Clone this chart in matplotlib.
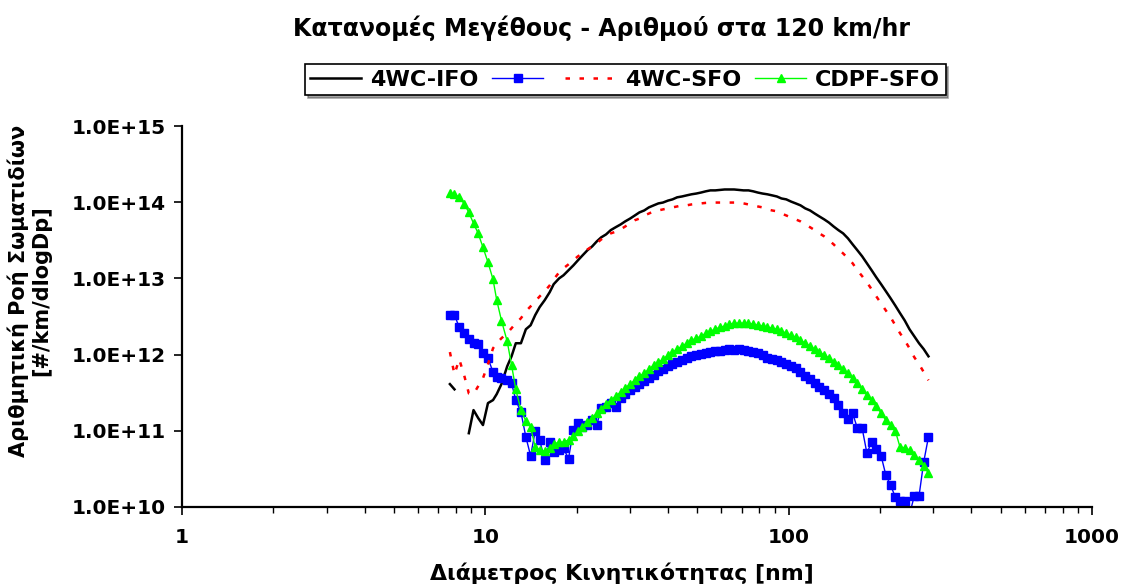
import matplotlib

matplotlib.use("Agg")
import matplotlib.pyplot as plt
import numpy as np
from matplotlib.ticker import FixedLocator, FuncFormatter, LogLocator, NullFormatter

plt.rcParams["font.family"] = ["DejaVu Sans"]
plt.rcParams["font.weight"] = "bold"

# mobility diameter channels [nm]
diameter = [
    7.64, 7.91, 8.20, 8.51, 8.82, 9.14, 9.47, 9.82, 10.2, 10.6, 10.9, 11.3, 11.8, 12.2, 12.6, 13.1,
    13.6, 14.1, 14.6, 15.1, 15.7, 16.3, 16.8, 17.5, 18.1, 18.8, 19.5, 20.2, 20.9, 21.7, 22.5, 23.3,
    24.1, 25.0, 25.9, 26.9, 27.9, 28.9, 30.0, 31.1, 32.2, 33.4, 34.6, 35.9, 37.2, 38.5, 40.0, 41.4,
    42.9, 44.5, 46.1, 47.8, 49.6, 51.4, 53.3, 55.2, 57.3, 59.4, 61.5, 63.8, 66.1, 68.5, 71.0, 73.7,
    76.4, 79.1, 82.0, 85.1, 88.2, 91.4, 94.7, 98.2, 101.8, 105.5, 109.4, 113.4, 117.6, 121.9, 126.3,
    131.0, 135.8, 140.7, 145.9, 151.2, 156.8, 162.5, 168.5, 174.7, 181.1, 187.7, 194.6, 201.7, 209.1,
    216.7, 224.7, 232.9, 241.4, 250.3, 259.5, 269.0, 278.8, 289.0,
]

wc_ifo = [
    4.1e11, 3.5e11, np.nan, np.nan, 9.3e10, 1.87e11, 1.47e11, 1.19e11, 2.31e11, 2.53e11, 3.03e11, 4.1e11,
    7.0e11, 9.5e11, 1.41e12, 1.41e12, 2.15e12, 2.43e12, 3.3e12, 4.2e12, 5.2e12, 6.6e12, 8.4e12, 1.0e13,
    1.1e13, 1.28e13, 1.48e13, 1.73e13, 2.0e13, 2.34e13, 2.63e13, 3.06e13, 3.46e13, 3.78e13, 4.3e13, 4.7e13,
    5.1e13, 5.6e13, 6.1e13, 6.7e13, 7.35e13, 7.8e13, 8.55e13, 9.1e13, 9.65e13, 9.9e13, 1.05e14, 1.09e14,
    1.16e14, 1.19e14, 1.23e14, 1.27e14, 1.3e14, 1.34e14, 1.39e14, 1.43e14, 1.43e14, 1.45e14, 1.47e14,
    1.47e14, 1.47e14, 1.45e14, 1.43e14, 1.43e14, 1.39e14, 1.34e14, 1.3e14, 1.27e14, 1.23e14, 1.19e14,
    1.12e14, 1.09e14, 1.02e14, 9.65e13, 9.1e13, 8.3e13, 7.8e13, 7.1e13, 6.5e13, 5.95e13, 5.4e13, 4.8e13,
    4.3e13, 3.9e13, 3.36e13, 2.8e13, 2.34e13, 1.95e13, 1.58e13, 1.28e13, 1.03e13, 8.4e12, 6.8e12, 5.5e12,
    4.4e12, 3.5e12, 2.8e12, 2.15e12, 1.74e12, 1.41e12, 1.18e12, 9.5e11,
]

blue_series = [
    3.3e12, 3.3e12, 2.29e12, 1.91e12, 1.59e12, 1.41e12, 1.37e12, 1.04e12, 9.0e11, 5.9e11, 5.1e11, 4.9e11,
    4.6e11, 4.2e11, 2.53e11, 1.76e11, 8.3e10, 4.7e10, 9.9e10, 7.6e10, 4.1e10, 7.1e10, 5.3e10, 5.6e10,
    5.9e10, 4.3e10, 1.02e11, 1.26e11, 1.12e11, 1.19e11, 1.38e11, 1.19e11, 1.98e11, 2.04e11, 2.31e11, 2.04e11,
    2.68e11, 3.03e11, 3.42e11, 3.74e11, 4.1e11, 4.5e11, 4.9e11, 5.4e11, 6.1e11, 6.4e11, 7.0e11, 7.5e11,
    7.9e11, 8.5e11, 9.0e11, 9.5e11, 9.8e11, 1.01e12, 1.04e12, 1.08e12, 1.11e12, 1.11e12, 1.14e12, 1.18e12,
    1.14e12, 1.18e12, 1.14e12, 1.11e12, 1.08e12, 1.04e12, 9.8e11, 9.0e11, 8.7e11, 8.5e11, 7.9e11, 7.5e11,
    7.0e11, 6.6e11, 5.9e11, 5.2e11, 4.8e11, 4.2e11, 3.74e11, 3.42e11, 3.03e11, 2.68e11, 2.17e11, 1.7e11,
    1.42e11, 1.7e11, 1.08e11, 1.08e11, 5.1e10, 7.1e10, 5.8e10, 4.7e10, 2.63e10, 1.94e10, 1.35e10, 1.2e10,
    1.2e10, 8.0e9, 1.39e10, 1.39e10, 3.9e10, 8.3e10,
]

wc_sfo = [
    1.08e12, 5.5e11, 8.7e11, 5.4e11, 3.1e11, 3.03e11, 3.85e11, 4.9e11, 7.5e11, 1.21e12, 1.41e12, 1.64e12,
    1.91e12, 2.22e12, 2.58e12, 3.0e12, 3.7e12, 4.3e12, 5.0e12, 5.8e12, 6.8e12, 8.1e12, 9.7e12, 1.2e13,
    1.36e13, 1.53e13, 1.73e13, 1.95e13, 2.13e13, 2.4e13, 2.63e13, 2.9e13, 3.25e13, 3.56e13, 3.9e13, 4.1e13,
    4.4e13, 4.8e13, 5.3e13, 5.8e13, 6.1e13, 6.7e13, 7.1e13, 7.6e13, 7.8e13, 8.05e13, 8.3e13, 8.55e13,
    8.8e13, 9.1e13, 9.1e13, 9.35e13, 9.5e13, 9.65e13, 9.8e13, 9.9e13, 9.9e13, 9.9e13, 9.9e13, 9.9e13,
    9.9e13, 9.9e13, 9.65e13, 9.35e13, 9.1e13, 8.8e13, 8.55e13, 8.05e13, 7.8e13, 7.6e13, 7.1e13, 6.7e13,
    6.3e13, 5.95e13, 5.6e13, 5.1e13, 4.7e13, 4.3e13, 3.9e13, 3.56e13, 3.16e13, 2.8e13, 2.4e13, 2.13e13,
    1.83e13, 1.58e13, 1.28e13, 1.07e13, 8.9e12, 7.2e12, 5.8e12, 4.7e12, 3.8e12, 3.1e12, 2.43e12, 1.91e12,
    1.54e12, 1.21e12, 9.25e11, 7.5e11, 5.9e11, 4.6e11,
]

cdpf_sfo = [
    1.34e14, 1.27e14, 1.16e14, 9.6e13, 7.35e13, 5.28e13, 3.9e13, 2.56e13, 1.63e13, 9.7e12, 5.2e12, 2.8e12,
    1.5e12, 7.3e11, 3.5e11, 1.87e11, 1.34e11, 1.12e11, 6.1e10, 5.6e10, 5.4e10, 5.9e10, 6.7e10, 7.1e10,
    7.1e10, 7.6e10, 8.5e10, 9.9e10, 1.12e11, 1.3e11, 1.47e11, 1.7e11, 1.93e11, 2.24e11, 2.53e11, 2.85e11,
    3.2e11, 3.6e11, 4.1e11, 4.6e11, 5.2e11, 5.7e11, 6.4e11, 7.3e11, 7.9e11, 8.7e11, 9.8e11, 1.08e12,
    1.18e12, 1.29e12, 1.41e12, 1.54e12, 1.64e12, 1.74e12, 1.91e12, 2.03e12, 2.15e12, 2.29e12, 2.36e12,
    2.5e12, 2.58e12, 2.58e12, 2.58e12, 2.58e12, 2.5e12, 2.43e12, 2.36e12, 2.29e12, 2.22e12, 2.15e12,
    2.03e12, 1.91e12, 1.8e12, 1.69e12, 1.54e12, 1.41e12, 1.29e12, 1.18e12, 1.08e12, 9.8e11, 9.0e11, 7.9e11,
    7.3e11, 6.4e11, 5.7e11, 4.9e11, 4.2e11, 3.5e11, 2.94e11, 2.53e11, 2.11e11, 1.7e11, 1.38e11, 1.19e11,
    1.0e11, 6.1e10, 6.0e10, 5.6e10, 4.8e10, 4.2e10, 3.4e10, 2.8e10,
]

legend_labels = ["4WC-IFO", "", "4WC-SFO", "CDPF-SFO"]

fig = plt.figure(figsize=(11.21, 5.87), dpi=100)
ax = fig.add_axes([0.1624, 0.1363, 0.8117, 0.649])

h1, = ax.plot(diameter, wc_ifo, color="black", linewidth=1.8)
h2, = ax.plot(diameter, blue_series, color="#0000ff", linewidth=1.0, marker="s", markersize=5.3,
              markeredgecolor="#0000ff", markerfacecolor="#0000ff")
h3, = ax.plot(diameter, wc_sfo, color="#ff0000", linewidth=1.8, dashes=(1.8, 3.8))
h4, = ax.plot(diameter, cdpf_sfo, color="#00ff00", linewidth=1.0, marker="^", markersize=6,
              markeredgecolor="#00ff00", markerfacecolor="#00ff00")

ax.set_xscale("log")
ax.set_yscale("log")
ax.set_xlim(1, 1000)
ax.set_ylim(1e10, 1e15)

ax.yaxis.set_major_locator(FixedLocator([1e10, 1e11, 1e12, 1e13, 1e14, 1e15]))
ax.yaxis.set_major_formatter(FuncFormatter(lambda v, p: "1.0E+%02d" % round(np.log10(v))))
ax.yaxis.set_minor_locator(FixedLocator([]))
ax.xaxis.set_major_locator(FixedLocator([1, 10, 100, 1000]))
ax.xaxis.set_major_formatter(FuncFormatter(lambda v, p: "%d" % round(v)))
ax.xaxis.set_minor_locator(LogLocator(base=10, subs=np.arange(2, 10)))
ax.xaxis.set_minor_formatter(NullFormatter())

for side in ("top", "right"):
    ax.spines[side].set_visible(False)
for side in ("left", "bottom"):
    ax.spines[side].set_linewidth(1.6)

ax.tick_params(axis="both", which="major", direction="out", length=6, width=1.2, labelsize=14.5, pad=6)
ax.tick_params(axis="x", which="major", pad=9)
ax.tick_params(axis="x", which="minor", direction="out", length=4, width=1.0)
for lbl in ax.get_xticklabels() + ax.get_yticklabels():
    lbl.set_fontweight("bold")

ax.set_xlabel("Διάμετρος Κινητικότητας [nm]", fontsize=15.8, fontweight="bold")
ax.xaxis.set_label_coords(0.4835, -0.145)
ax.set_ylabel("Αριθμητική Ροή Σωματιδίων\n[#/km/dlogDp]", fontsize=15, fontweight="bold",
              linespacing=1.1)
ax.yaxis.set_label_coords(-0.144, 0.567)

fig.text(0.537, 0.952, "Κατανομές Μεγέθους - Αριθμού στα 120 km/hr", ha="center", va="center",
         fontsize=17, fontweight="bold")

leg = ax.legend([h1, h2, h3, h4], legend_labels, ncol=4, loc="center", bbox_to_anchor=(0.487, 1.121),
                frameon=True, shadow=True, fancybox=False, fontsize=16, handlelength=2.3,
                handletextpad=0.4, columnspacing=0.6, borderpad=0.25)
leg.get_frame().set_edgecolor("black")
leg.get_frame().set_linewidth(1.2)
for t in leg.get_texts():
    t.set_fontweight("bold")

fig.savefig("out.png", dpi=100)
